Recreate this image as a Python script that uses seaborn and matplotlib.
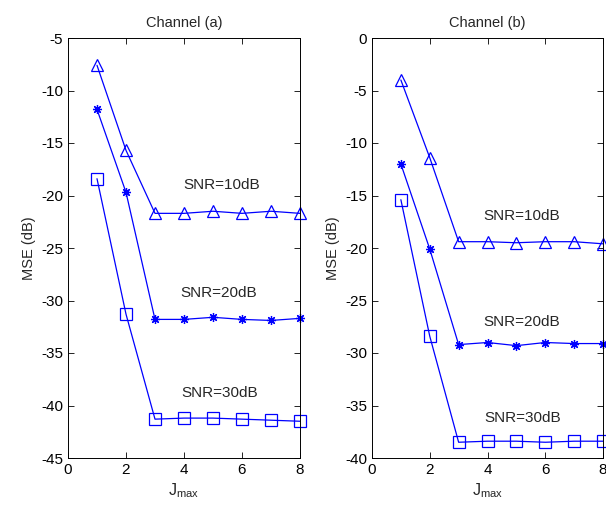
import numpy as np
import pandas as pd
import matplotlib
matplotlib.use("Agg")
import matplotlib.pyplot as plt
import seaborn as sns

j_max = [1, 2, 3, 4, 5, 6, 7, 8]

# Channel (a)
a_snr10 = [-7.6, -15.7, -21.7, -21.7, -21.5, -21.7, -21.5, -21.7]
a_snr20 = [-11.8, -19.7, -31.8, -31.8, -31.6, -31.8, -31.9, -31.7]
a_snr30 = [-18.4, -31.3, -41.3, -41.2, -41.2, -41.3, -41.4, -41.5]

# Channel (b)
b_snr10 = [-4.0, -11.4, -19.4, -19.4, -19.5, -19.4, -19.4, -19.6]
b_snr20 = [-12.0, -20.1, -29.2, -29.0, -29.3, -29.0, -29.1, -29.1]
b_snr30 = [-15.4, -28.4, -38.5, -38.4, -38.4, -38.5, -38.4, -38.4]

snr_labels = ["SNR=10dB", "SNR=20dB", "SNR=30dB"]
markers = ["^", (8, 2, 0), "s"]
marker_sizes = [9, 6.5, 8]

sns.set_theme(style="ticks")
plt.rcParams["font.family"] = ["Liberation Sans", "DejaVu Sans"]
plt.rcParams["mathtext.default"] = "regular"
plt.rcParams["axes.unicode_minus"] = False

fig = plt.figure(figsize=(6.06, 5.08), dpi=100)
W, H = 606, 508
ax_a = fig.add_axes([68 / W, 1 - 458 / H, 232 / W, 420 / H])
ax_b = fig.add_axes([372 / W, 1 - 458 / H, 231 / W, 420 / H])

panels = [
    (ax_a, "Channel (a)", [a_snr10, a_snr20, a_snr30], (-45, -5),
     [(3.97, -19.0), (3.86, -29.3), (3.9, -38.8)]),
    (ax_b, "Channel (b)", [b_snr10, b_snr20, b_snr30], (-40, 0),
     [(3.86, -17.0), (3.84, -27.0), (3.9, -36.2)]),
]

for ax, title, series, ylim, label_pos in panels:
    for vals, mk, ms, lab, (tx, ty) in zip(series, markers, marker_sizes, snr_labels, label_pos):
        df = pd.DataFrame({"J": j_max, "MSE": vals})
        sns.lineplot(data=df, x="J", y="MSE", ax=ax, color="blue", lw=0.9,
                     marker=mk, markersize=ms, markerfacecolor="none",
                     markeredgecolor="blue", markeredgewidth=0.9, clip_on=False)
        ax.text(tx, ty, lab, fontsize=11, va="center", ha="left")
    ax.set_xlim(0, 8)
    ax.set_ylim(*ylim)
    ax.set_xticks([0, 2, 4, 6, 8])
    ax.set_yticks(np.arange(ylim[0], ylim[1] + 1, 5))
    ax.set_title(title, fontsize=10.5, pad=8)
    ax.set_xlabel("$J_{max}$", fontsize=11.5, labelpad=3)
    ax.set_ylabel("MSE (dB)", fontsize=10.5, labelpad=4)
    ax.tick_params(direction="in", top=True, right=True, labelsize=11,
                   length=4, width=0.6, color="black", labelcolor="black")
    for sp in ax.spines.values():
        sp.set_linewidth(0.7)
        sp.set_color("black")
        sp.set_visible(True)

fig.savefig("out.png", dpi=100)
